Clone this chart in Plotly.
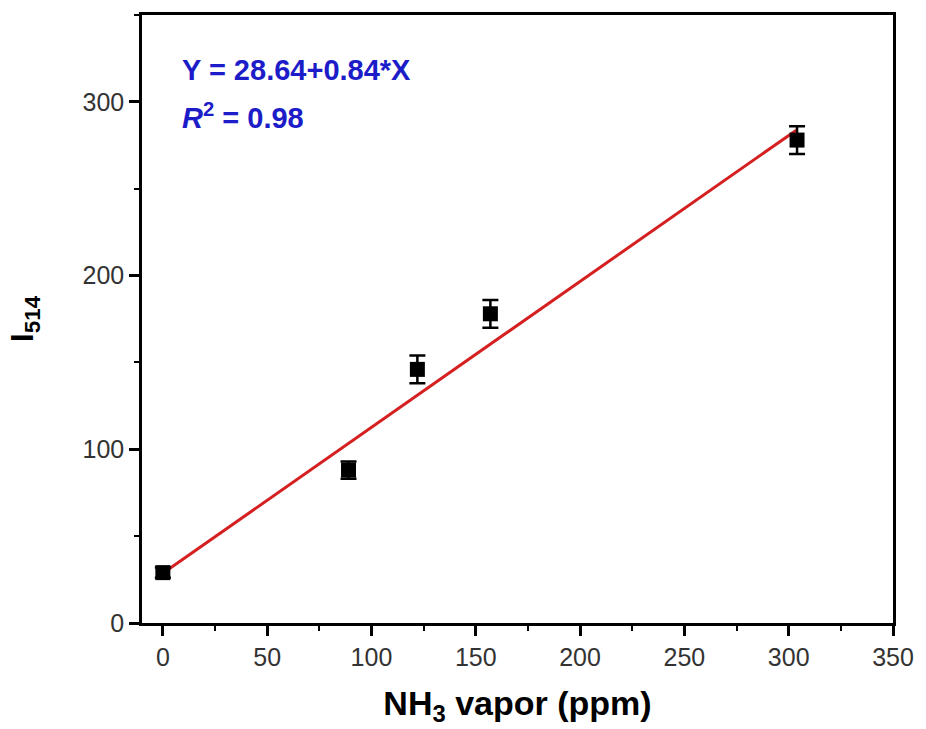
import plotly.graph_objects as go

conc = [0, 89, 122, 157, 304]
intensity = [29, 88, 146, 178, 278]
err = [3, 5, 8, 8, 8]
fit_x = [0, 304]
intercept = 28.64
slope = 0.84
fit_y = [intercept + slope * x for x in fit_x]
xticks = [0, 50, 100, 150, 200, 250, 300, 350]
yticks = [0, 100, 200, 300]

fig = go.Figure()
fig.add_trace(go.Scatter(x=fit_x, y=fit_y, mode="lines",
                         line=dict(color="#d42020", width=3), showlegend=False))
fig.add_trace(go.Scatter(x=conc, y=intensity, mode="markers",
                         marker=dict(symbol="square", size=15, color="black"),
                         error_y=dict(type="data", array=err, color="black", thickness=2.5, width=8),
                         showlegend=False))

fig.add_annotation(x=0.05, y=0.909, xref="paper", yref="paper", xanchor="left", yanchor="middle",
                   text="<b>Y = 28.64+0.84*X</b>", showarrow=False,
                   font=dict(family="Liberation Sans, Arial", size=29, color="#1c1cc8"))
fig.add_annotation(x=0.05, y=0.834, xref="paper", yref="paper", xanchor="left", yanchor="middle",
                   text="<b><i>R</i><sup>2</sup> = 0.98</b>", showarrow=False,
                   font=dict(family="Liberation Sans, Arial", size=29, color="#1c1cc8"))

axis_common = dict(showline=True, linecolor="black", linewidth=2.5, mirror=True,
                   ticks="outside", ticklen=10, tickwidth=2.5, tickcolor="black",
                   showgrid=False, zeroline=False,
                   tickfont=dict(family="Liberation Sans, Arial", size=25, color="#333333"))

fig.update_xaxes(range=[-10, 350], tickvals=xticks,
                 minor=dict(ticks="outside", ticklen=5, tickwidth=2, tickcolor="black", dtick=25, tick0=0),
                 title=dict(text="<b>NH<sub>3</sub> vapor (ppm)</b>", standoff=22,
                            font=dict(family="Liberation Sans, Arial", size=34, color="black")),
                 **axis_common)
fig.update_yaxes(range=[0, 350], tickvals=yticks,
                 minor=dict(ticks="outside", ticklen=5, tickwidth=2, tickcolor="black", dtick=50, tick0=0),
                 title=dict(text="<b>I<sub>514</sub></b>", standoff=40,
                            font=dict(family="Liberation Sans, Arial", size=32, color="black")),
                 **axis_common)

fig.update_layout(width=926, height=729, margin=dict(l=142, r=24, t=15, b=106),
                  plot_bgcolor="white", paper_bgcolor="white")
fig.write_html("out.html")
